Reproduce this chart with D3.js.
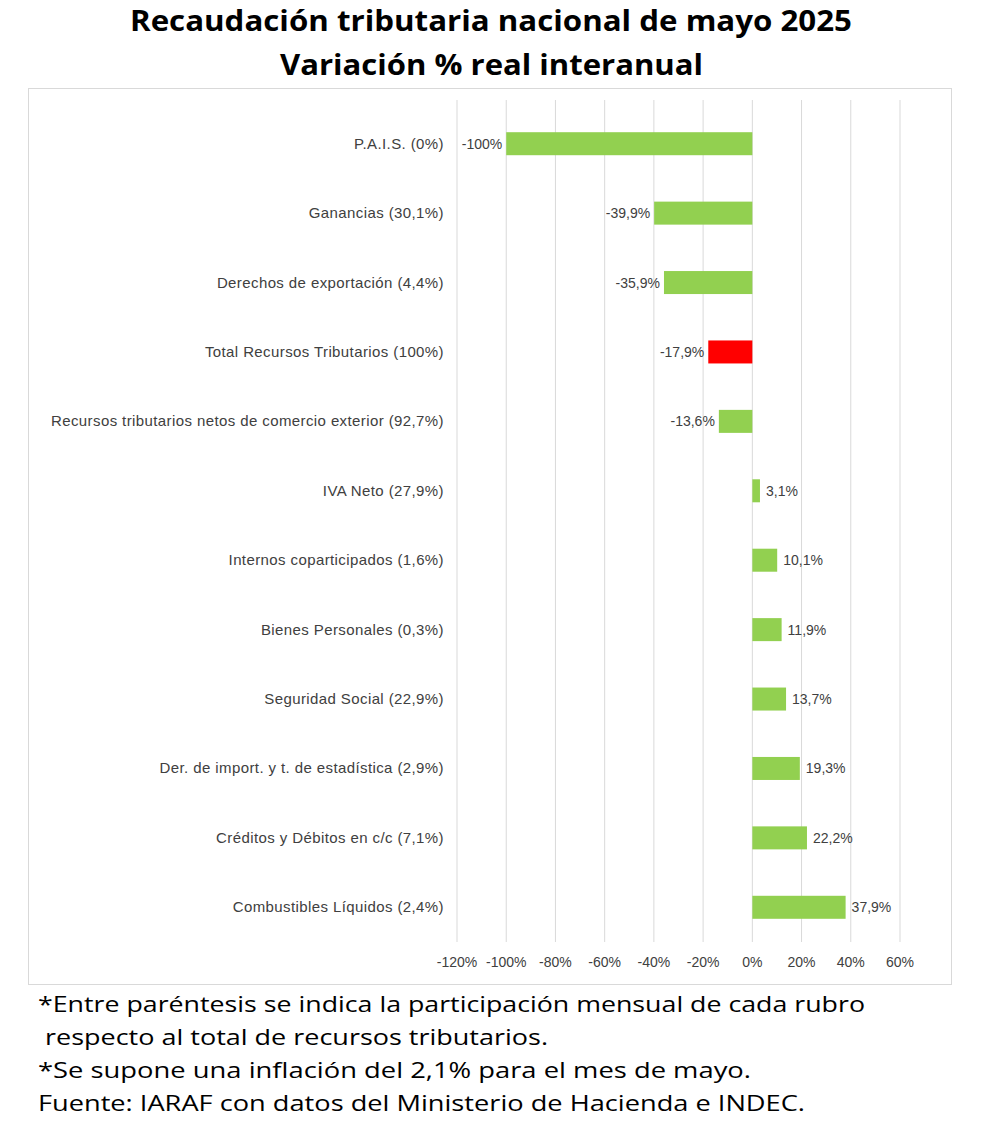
<!DOCTYPE html>
<html><head><meta charset="utf-8">
<script src="https://cdn.jsdelivr.net/npm/d3@7"></script>
<style>body{margin:0;background:#fff}</style>
</head><body>
<svg id="chart" width="1000" height="1137"></svg>
<script>
// datos
var categorias = ["P.A.I.S. (0%)","Ganancias (30,1%)","Derechos de exportación (4,4%)","Total Recursos Tributarios (100%)","Recursos tributarios netos de comercio exterior (92,7%)","IVA Neto (27,9%)","Internos coparticipados (1,6%)","Bienes Personales (0,3%)","Seguridad Social (22,9%)","Der. de import. y t. de estadística (2,9%)","Créditos y Débitos en c/c (7,1%)","Combustibles Líquidos (2,4%)"]
var variaciones = [-100,-39.9,-35.9,-17.9,-13.6,3.1,10.1,11.9,13.7,19.3,22.2,37.9]
var etiquetas = ["-100%","-39,9%","-35,9%","-17,9%","-13,6%","3,1%","10,1%","11,9%","13,7%","19,3%","22,2%","37,9%"]
var ticks = [-120,-100,-80,-60,-40,-20,0,20,40,60]
var titulos = ["Recaudación tributaria nacional de mayo 2025","Variación % real interanual"]
var notas = ["*Entre paréntesis se indica la participación mensual de cada rubro"," respecto al total de recursos tributarios.","*Se supone una inflación del 2,1% para el mes de mayo.","Fuente: IARAF con datos del Ministerio de Hacienda e INDEC."]

var svg = d3.select("#chart")
var f = "'Liberation Sans', Arial, sans-serif"
var fo = "'Open Sans', 'Noto Sans', sans-serif"

// ancho de los textos en la imagen original
var anchoTit = [[130,722],[280,423]]
var anchoNota = [[38,827],[45,503],[38,713],[38,767]]

svg.selectAll("text.tit").data(titulos).enter().append("text")
  .attr("x",(d,i)=>anchoTit[i][0]).attr("y",(d,i)=>31+i*44)
  .attr("textLength",(d,i)=>anchoTit[i][1]).attr("lengthAdjust","spacingAndGlyphs")
  .style("font-family",fo).style("font-weight","bold").style("font-size","28px")
  .text(d=>d)

// marco
svg.append("rect").attr("x",28.5).attr("y",88.5).attr("width",923).attr("height",896)
  .attr("fill","none").attr("stroke","#d9d9d9")

var x = d3.scaleLinear().domain([-120,60]).range([457,900])
var y = d3.scaleBand().domain(categorias).range([109,942]).paddingInner(0.67).paddingOuter(0.335)

svg.selectAll("line.grid").data(ticks).enter().append("line")
  .attr("x1",d=>x(d)).attr("x2",d=>x(d)).attr("y1",100).attr("y2",942)
  .attr("stroke","#d9d9d9").attr("stroke-width",1)

svg.selectAll("text.tick").data(ticks).enter().append("text")
  .attr("x",d=>x(d)).attr("y",967).attr("text-anchor","middle")
  .style("font-family",f).style("font-size","14px").style("fill","#404040")
  .text(d=>d+"%")

var bh = 23
svg.selectAll("rect.bar").data(variaciones).enter().append("rect")
  .attr("x",d=>x(Math.min(0,d))).attr("width",d=>Math.abs(x(d)-x(0)))
  .attr("y",(d,i)=>y(categorias[i])+y.bandwidth()/2-bh/2).attr("height",bh)
  .attr("fill",(d,i)=>i==3?"#ff0000":"#92d050")

svg.selectAll("text.val").data(variaciones).enter().append("text")
  .attr("x",d=>d<0?x(d)-4:x(d)+6)
  .attr("y",(d,i)=>y(categorias[i])+y.bandwidth()/2+5)
  .attr("text-anchor",d=>d<0?"end":"start")
  .style("font-family",f).style("font-size","14px").style("fill","#404040")
  .text((d,i)=>etiquetas[i])

svg.selectAll("text.cat").data(categorias).enter().append("text")
  .attr("x",444).attr("y",d=>y(d)+y.bandwidth()/2+5).attr("text-anchor","end")
  .style("font-family",f).style("font-size","15px").style("letter-spacing","0.4px").style("fill","#404040")
  .text(d=>d)

svg.selectAll("text.nota").data(notas).enter().append("text")
  .attr("x",(d,i)=>anchoNota[i][0]).attr("y",(d,i)=>1012+i*33)
  .attr("textLength",(d,i)=>anchoNota[i][1]).attr("lengthAdjust","spacingAndGlyphs")
  .style("font-family",fo).style("font-size","22px").style("fill","#000")
  .text(d=>d.trim())
</script>
</body></html>
